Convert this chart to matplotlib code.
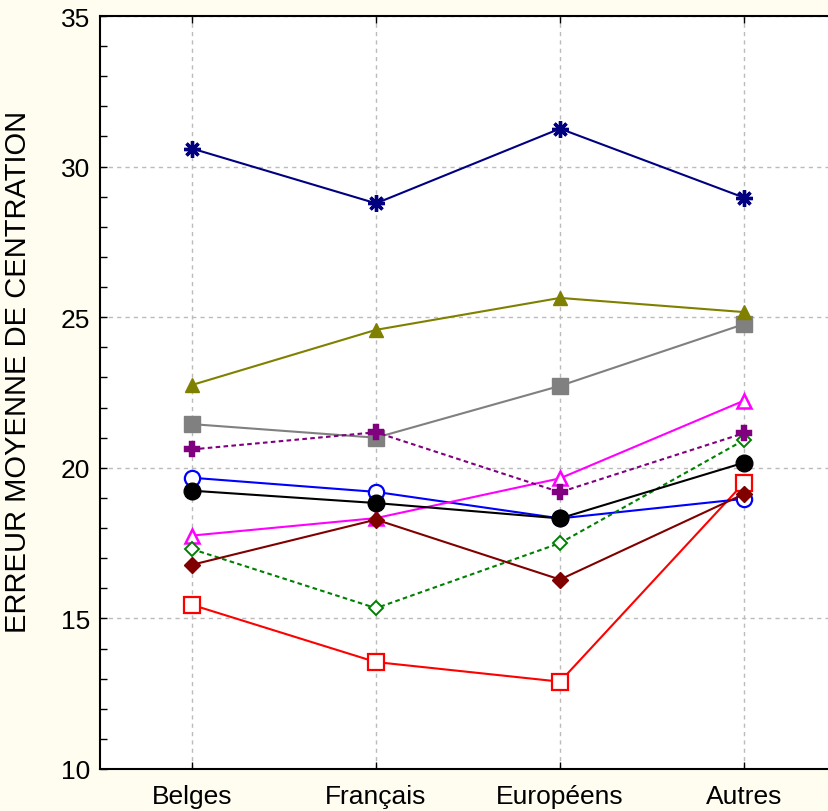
import matplotlib
matplotlib.use("Agg")
import matplotlib.pyplot as plt
from matplotlib.ticker import MultipleLocator

plt.rcParams['font.family'] = ['Liberation Sans', 'DejaVu Sans']

categories = ["Belges", "Français", "Européens", "Autres"]

s_navy    = [30.60, 28.78, 31.26, 28.97]
s_olive   = [22.75, 24.58, 25.64, 25.17]
s_gray    = [21.45, 21.00, 22.72, 24.77]
s_purple  = [20.61, 21.18, 19.19, 21.15]
s_blue    = [19.67, 19.20, 18.32, 18.97]
s_black   = [19.24, 18.83, 18.32, 20.17]
s_magenta = [17.75, 18.33, 19.65, 22.23]
s_green   = [17.30, 15.34, 17.50, 20.92]
s_darkred = [16.78, 18.28, 16.29, 19.13]
s_red     = [15.45, 13.55, 12.90, 19.50]

bg = "#FFFDF0"
fig = plt.figure(figsize=(8.29, 8.12), dpi=100, facecolor=bg)
W, H = 829, 812
x0, x1 = 100, 836
y0, y1 = 770, 17
ax = fig.add_axes([x0 / W, (H - y0) / H, (x1 - x0) / W, (y0 - y1) / H])
ax.set_facecolor("white")

x = list(range(len(categories)))
dot = (0, (2.2, 1.6))
lw = 1.5

ax.plot(x, s_red, color="#FF0000", lw=lw, marker="s", ms=11, mfc="white", mec="#FF0000", mew=1.6, zorder=3)
ax.plot(x, s_blue, color="#0000FF", lw=lw, marker="o", ms=11, mfc="white", mec="#0000FF", mew=1.6, zorder=3)
ax.plot(x, s_magenta, color="#FF00FF", lw=lw, marker="^", ms=10, mfc="white", mec="#FF00FF", mew=1.8, zorder=3)
ax.plot(x, s_green, color="#008000", lw=lw, ls=dot, marker="D", ms=7.5, mfc="white", mec="#008000", mew=1.4, zorder=3)
ax.plot(x, s_gray, color="#808080", lw=lw, marker="s", ms=11, mfc="#808080", mec="#808080", zorder=3)
ax.plot(x, s_olive, color="#808000", lw=lw, marker="^", ms=10, mfc="#808000", mec="#808000", zorder=3)
ax.plot(x, s_navy, color="#000080", lw=lw, marker=(8, 2, 0), ms=12, mec="#000080", mew=2.4, zorder=3)
ax.plot(x, s_purple, color="#800080", lw=lw, ls=dot, marker="P", ms=12, mfc="#800080", mec="#800080", mew=0.3, zorder=3)
ax.plot(x, s_black, color="#000000", lw=lw, marker="o", ms=12, mfc="#000000", mec="#000000", zorder=3)
ax.plot(x, s_darkred, color="#800000", lw=lw, marker="D", ms=8, mfc="#800000", mec="#800000", zorder=3)

ax.set_xlim(-0.5, 3.5)
ax.set_ylim(10, 35)
ax.set_xticks(x)
ax.set_xticklabels(categories, fontsize=19)
ax.yaxis.set_major_locator(MultipleLocator(5))
ax.yaxis.set_minor_locator(MultipleLocator(1))
ax.tick_params(axis="y", which="both", direction="in", labelsize=19, length=5, width=1, pad=7)
ax.tick_params(axis="x", which="both", direction="in", length=5, width=1, pad=11, top=True)
ax.grid(True, which="major", color="#BBBBBB", linestyle=(0, (3, 3)), linewidth=1)
ax.spines["right"].set_visible(False)
for side in ["left", "bottom", "top"]:
    ax.spines[side].set_linewidth(1.5)

ax.set_ylabel("ERREUR MOYENNE DE CENTRATION", fontsize=21)
ax.yaxis.set_label_coords(-0.092, 0.528)

fig.savefig("out.png", dpi=100, facecolor=bg)
